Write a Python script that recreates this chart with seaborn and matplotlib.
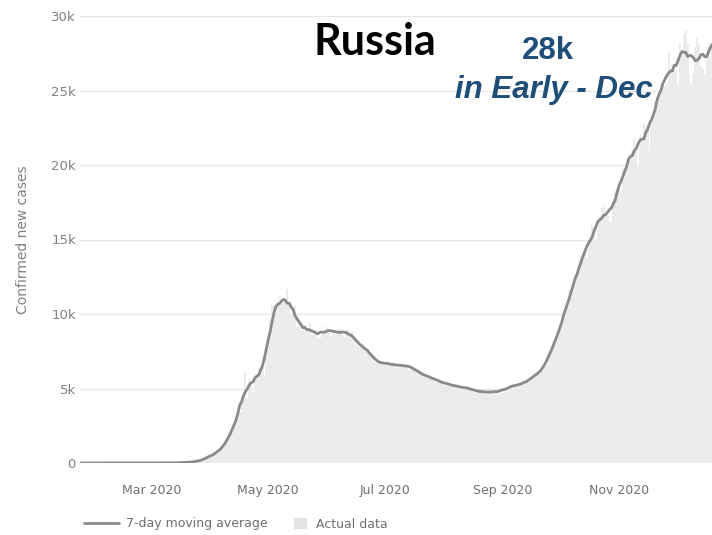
import numpy as np
import pandas as pd
import matplotlib
matplotlib.use("Agg")
import matplotlib.pyplot as plt
from matplotlib.lines import Line2D
from matplotlib.patches import Patch
import seaborn as sns

# daily confirmed new cases, Russia, 22 Jan - 23 Dec 2020
jan = [0, 0, 0, 0, 0, 0, 0, 0, 0, 2]  # from 22 Jan
feb = [0] * 29
mar = [0, 1, 0, 0, 0, 1, 0, 1, 7, 0, 10, 6, 17, 14, 14, 30, 21, 33, 52, 54,
       53, 61, 71, 57, 163, 182, 196, 228, 270, 302, 500]
apr = [440, 771, 601, 582, 658, 954, 1154, 1175, 1459, 1786, 1667, 2186, 2558,
       2774, 3388, 3448, 4070, 4785, 6060, 4268, 5642, 5236, 4774, 5849, 5966,
       6361, 6198, 6411, 5841, 7099]
may = [7933, 9623, 10633, 10581, 10102, 10559, 11231, 10699, 10817, 11012,
       11656, 10899, 10028, 9974, 10598, 9200, 9709, 8926, 9263, 8764, 8849,
       8894, 9434, 8599, 8946, 8915, 8338, 8371, 8572, 8952, 9268]
jun = [9035, 8863, 8536, 8831, 8726, 8855, 8984, 8985, 8595, 8404, 8779, 8987,
       8706, 8835, 8246, 8248, 7843, 7790, 7972, 7889, 7728, 7600, 7425, 7176,
       7113, 6800, 6852, 6791, 6719, 6693]
jul = [6556, 6760, 6718, 6632, 6736, 6611, 6368, 6562, 6509, 6635, 6611, 6615,
       6537, 6248, 6422, 6428, 6406, 6234, 6109, 5940, 5842, 5862, 5811, 5848,
       5871, 5765, 5635, 5395, 5475, 5509, 5482]
aug = [5462, 5427, 5159, 5204, 5267, 5241, 5212, 5189, 5118, 5102, 4945, 5065,
       5057, 5061, 5081, 4969, 4839, 4718, 4748, 4767, 4838, 4870, 4852, 4676,
       4696, 4711, 4676, 4829, 4980, 4897, 4729]
sep = [4729, 4952, 4995, 5110, 5205, 5195, 5185, 5099, 5363, 5172, 5310, 5405,
       5449, 5509, 5670, 5529, 5762, 5905, 6065, 6148, 6196, 6215, 6431, 6595,
       7212, 7523, 7867, 8135, 8232, 8481]
oct_ = [8945, 9412, 9859, 10499, 10888, 11615, 11115, 11493, 12126, 12846,
        13634, 13868, 13592, 14231, 13754, 14936, 15150, 15982, 15700, 14922,
        15971, 16521, 17115, 17340, 16710, 16550, 16202, 16202, 17717, 18283,
        18140]
nov = [18665, 18257, 19768, 19404, 19768, 20582, 20498, 20977, 21798, 20977,
       19851, 21983, 21608, 22778, 22572, 22410, 20977, 22778, 23610, 24318,
       24581, 24822, 25173, 25351, 25326, 25487, 27543, 26338, 26683, 26402]
dec = [26402, 25345, 28145, 27403, 28782, 29039, 28137, 26097, 25345, 26190,
       27927, 28585, 28137, 26689, 26431, 26097, 27921, 28214, 27400, 28100,
       29000, 28500, 27600]

tick_dates = ["2020-03-01", "2020-05-01", "2020-07-01", "2020-09-01", "2020-11-01"]
tick_labels = ["Mar 2020", "May 2020", "Jul 2020", "Sep 2020", "Nov 2020"]
y_ticks = [0, 5000, 10000, 15000, 20000, 25000, 30000]
y_labels = ["0", "5k", "10k", "15k", "20k", "25k", "30k"]

daily = jan + feb + mar + apr + may + jun + jul + aug + sep + oct_ + nov + dec
dates = pd.date_range("2020-01-22", periods=len(daily), freq="D")
df = pd.DataFrame({"date": dates, "cases": daily})
df["avg"] = df["cases"].rolling(7, center=True, min_periods=1).mean()

sns.set_style("white")
plt.rcParams["font.family"] = ["DejaVu Sans"]

fig = plt.figure(figsize=(7.12, 5.35), dpi=100)
ax = fig.add_axes([80 / 712, 72 / 535, 632 / 712, 447 / 535])

ax.bar(df["date"], df["cases"], width=1.0, color="#ececec", linewidth=0, zorder=1)
sns.lineplot(data=df, x="date", y="avg", ax=ax, color="#8a8a8a", linewidth=2,
             zorder=3, legend=False)

ax.set_xlim(pd.Timestamp("2020-01-23 05:00"), pd.Timestamp("2020-12-19 19:00"))
ax.set_ylim(0, 30000)
ax.set_yticks(y_ticks)
ax.set_yticklabels(y_labels)
ax.set_xticks(pd.to_datetime(tick_dates))
ax.set_xticklabels(tick_labels)

for s in ax.spines.values():
    s.set_visible(False)
ax.grid(axis="y", color="#e6e6e6", linewidth=0.9, zorder=0)
ax.set_axisbelow(True)
ax.tick_params(axis="y", length=0, pad=3, labelsize=9.5, labelcolor="#808080")
ax.tick_params(axis="x", length=9, width=0.8, color="#dddddd", pad=6,
               labelsize=9, labelcolor="#707070")
ax.set_xlabel("")
ax.set_ylabel("Confirmed new cases", fontsize=10, color="#808080", labelpad=15)

fig.text(375 / 712, 1 - 55 / 535, "Russia", ha="center", va="baseline",
         fontsize=31, fontweight="bold", family="Lato", color="black")
fig.text(548 / 712, 1 - 59 / 535, "28k", ha="center", va="baseline",
         fontsize=22.5, fontweight="bold", family="Liberation Sans", color="#1f4e79")
fig.text(554 / 712, 1 - 98 / 535, "in Early - Dec", ha="center", va="baseline",
         fontsize=22.5, fontweight="bold", style="italic", family="Liberation Sans",
         color="#1f4e79")

fig.legend(handles=[Line2D([], [], color="#8a8a8a", linewidth=2)],
           labels=["7-day moving average"], loc="center left",
           bbox_to_anchor=(84 / 712, 11 / 535), frameon=False,
           fontsize=9, labelcolor="#707070", handlelength=2.8,
           handletextpad=0.55, borderpad=0, borderaxespad=0)
fig.legend(handles=[Patch(facecolor="#e3e3e3", edgecolor="none")],
           labels=["Actual data"], loc="center left",
           bbox_to_anchor=(294 / 712, 11 / 535), frameon=False,
           fontsize=9, labelcolor="#707070", handlelength=1.0, handleheight=1.0,
           handletextpad=0.8, borderpad=0, borderaxespad=0)

fig.savefig("out.png", dpi=100)
